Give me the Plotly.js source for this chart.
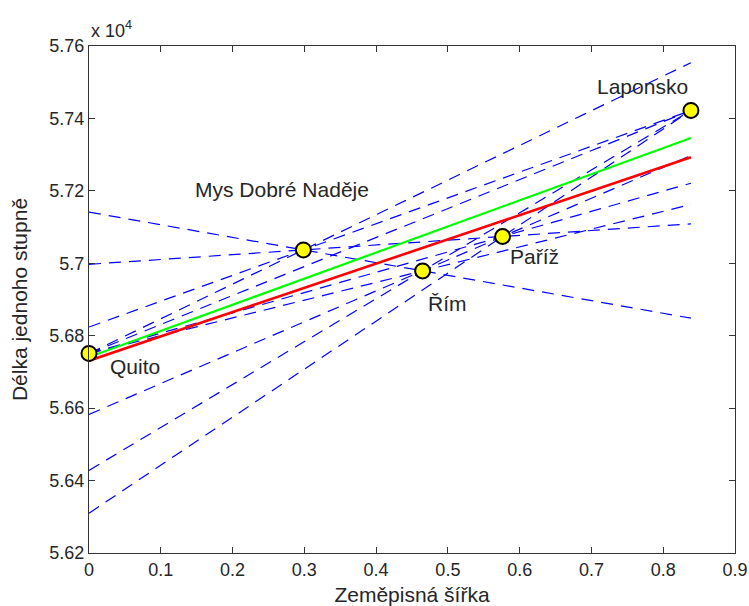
<!DOCTYPE html>
<html>
<head>
<meta charset="utf-8">
<script src="https://cdn.plot.ly/plotly-3.0.1.min.js"></script>
<style>
  html, body { margin: 0; padding: 0; background: #ffffff; }
  #chart { width: 749px; height: 606px; }
</style>
</head>
<body>
<div id="chart"></div>
<script>
// Measured stations: latitude term (sin^2 of latitude) and length of one degree
const stations = ['Quito', 'Mys Dobré Naděje', 'Řím', 'Paříž', 'Laponsko'];
const latTerm = [0, 0.2987, 0.4648, 0.5762, 0.8386];
const degLength = [56751, 57037, 56979, 57074, 57422];

// Two fitted lines, given by their values at both ends of the station range
const greenFit = [56741, 57346];
const redFit = [56731, 57293];

// Station label placement (data coordinates of the left/middle point of each label)
const labelX = [0.027, 0.145, 0.4695, 0.5837, 0.705];
const labelY = [56714, 57205, 56888, 57020, 57488];

// Axis tick labels
const xTickVals = [0, 0.1, 0.2, 0.3, 0.4, 0.5, 0.6, 0.7, 0.8, 0.9];
const xTickText = ['0', '0.1', '0.2', '0.3', '0.4', '0.5', '0.6', '0.7', '0.8', '0.9'];
const yTickVals = [56200, 56400, 56600, 56800, 57000, 57200, 57400, 57600];
const yTickText = ['5.62', '5.64', '5.66', '5.68', '5.7', '5.72', '5.74', '5.76'];

const FONT = 'Liberation Sans, Arial, Helvetica, sans-serif';
const TEXT_COLOR = '#262626';
const xMin = Math.min(...latTerm);
const xMax = Math.max(...latTerm);

const traces = [];

// Dashed line through every pair of stations, spanning the station range
for (let i = 0; i < stations.length; i++) {
  for (let j = i + 1; j < stations.length; j++) {
    const slope = (degLength[j] - degLength[i]) / (latTerm[j] - latTerm[i]);
    const yAt = x => degLength[i] + slope * (x - latTerm[i]);
    traces.push({
      type: 'scatter', mode: 'lines',
      x: [xMin, xMax], y: [yAt(xMin), yAt(xMax)],
      line: { color: '#0000ff', width: 1.2, dash: '12px,8px' },
      hoverinfo: 'skip', showlegend: false
    });
  }
}

traces.push({
  type: 'scatter', mode: 'lines',
  x: [xMin, xMax], y: greenFit,
  line: { color: '#00ff00', width: 2.2 },
  showlegend: false
});
traces.push({
  type: 'scatter', mode: 'lines',
  x: [xMin, xMax], y: redFit,
  line: { color: '#ff0000', width: 2.6 },
  showlegend: false
});

// Stations
traces.push({
  type: 'scatter', mode: 'markers',
  x: latTerm, y: degLength, text: stations,
  marker: { symbol: 'circle', size: 15, color: '#ffff00', line: { color: '#000000', width: 2 } },
  cliponaxis: false,
  showlegend: false
});

const annotations = stations.map((name, k) => ({
  x: labelX[k], y: labelY[k], xref: 'x', yref: 'y',
  text: name, showarrow: false,
  xanchor: 'left', yanchor: 'middle',
  font: { family: FONT, size: 21, color: TEXT_COLOR }
}));

// Exponent of the y axis
annotations.push({
  x: 0, y: 1, xref: 'paper', yref: 'paper',
  text: 'x 10<sup>4</sup>', showarrow: false,
  xanchor: 'left', yanchor: 'bottom', yshift: 3,
  font: { family: FONT, size: 18, color: TEXT_COLOR }
});

const axisCommon = {
  showline: true, linecolor: '#333333', linewidth: 1.2,
  mirror: 'ticks', ticks: 'inside', ticklen: 6, tickwidth: 1.2, tickcolor: '#333333',
  showgrid: false, zeroline: false,
  tickfont: { family: FONT, size: 18, color: TEXT_COLOR }
};

const layout = {
  width: 749, height: 606,
  margin: { l: 89, r: 14, t: 46, b: 53 },
  paper_bgcolor: '#ffffff', plot_bgcolor: '#ffffff',
  showlegend: false,
  xaxis: Object.assign({}, axisCommon, {
    range: [0, 0.9],
    tickmode: 'array', tickvals: xTickVals, ticktext: xTickText,
    title: { text: 'Zeměpisná šířka', font: { family: FONT, size: 21, color: TEXT_COLOR }, standoff: 12 }
  }),
  yaxis: Object.assign({}, axisCommon, {
    range: [56200, 57600],
    tickmode: 'array', tickvals: yTickVals, ticktext: yTickText,
    title: { text: 'Délka jednoho stupně', font: { family: FONT, size: 21, color: TEXT_COLOR }, standoff: 15 }
  }),
  annotations: annotations
};

Plotly.newPlot('chart', traces, layout, { staticPlot: true, displayModeBar: false });
</script>
</body>
</html>
